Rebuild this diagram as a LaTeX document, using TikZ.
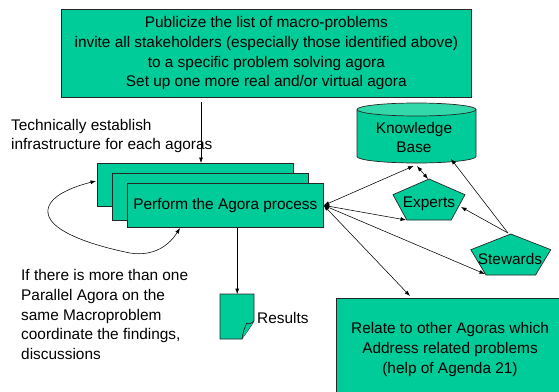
\documentclass[tikz,border=0pt]{standalone}
\usepackage{fontspec}
\setmainfont{Liberation Sans}
\usetikzlibrary{arrows.meta}
\definecolor{agreen}{HTML}{00CC99}
\definecolor{alight}{HTML}{33D8AA}
\begin{document}
\begin{tikzpicture}[x=1pt,y=-1pt,
  txt/.style={font=\fontsize{15.4pt}{19.7pt}\selectfont, inner sep=0pt, text=black},
  box/.style={draw=black!85, fill=agreen, line width=0.7pt, inner sep=0pt},
  conn/.style={line width=0.55pt, black},
  tipa/.style={-{Latex[length=5.5pt,width=4pt]}},
  tipb/.style={{Latex[length=5.5pt,width=4pt]}-{Latex[length=5.5pt,width=4pt]}}]
\useasboundingbox (0,0) rectangle (559,391);

% top box
\node[box, txt, align=center, minimum width=410pt, minimum height=88pt, anchor=north west] (top) at (61,9)
  {Publicize the list of macro-problems\\invite all stakeholders (especially those identified above)\\to a specific problem solving agora\\Set up one more real and/or virtual agora};

\node[txt, align=left, anchor=west] (tech) at (11,136)
  {Technically establish\\infrastructure for each agoras};

% stacked boxes
\node[box, minimum width=196pt, minimum height=43pt, anchor=north west] (b1) at (97,163) {};
\node[box, minimum width=196pt, minimum height=47pt, anchor=north west] (b2) at (112,173) {};
\node[box, txt, minimum width=196pt, minimum height=44pt, anchor=north west] (perf) at (127,183) {Perform the Agora process};

\coordinate (topout) at (201,102);
\draw[conn,tipa] (topout) -- (b1.north -| topout);

% loop
\coordinate (loopA) at (96,181);
\coordinate (loopB) at (180,228);
\draw[conn,tipb] (loopA) .. controls (72,187) and (46,197) .. (48,213)
  .. controls (50,232) and (95,246) .. (130,253)
  .. controls (155,257) and (170,244) .. (loopB);

\node[txt, align=left, anchor=west] (ifthere) at (21,314.5)
  {If there is more than one\\Parallel Agora on the\\same Macroproblem\\coordinate the findings,\\discussions};

% results document
\node[inner sep=0pt, minimum width=34pt, minimum height=45pt, anchor=north west] (res) at (220,294) {};
\draw[box] (220,294) -- (254,294) -- (254,321) .. controls (250,328) and (245,334) .. (242,339) -- (220,339) -- cycle;
\draw[box] (242,339) .. controls (243,332) and (245,326) .. (247,323) .. controls (249,325) and (252,323) .. (254,321);
\node[txt, anchor=west] (restext) at (257,318) {Results};
\draw[conn,tipa] (perf.south -| res.north) -- (res.north);

% knowledge base cylinder
\path[fill=agreen] (357,109.5) -- (357,156.5) arc[start angle=180, end angle=360, x radius=59.5pt, y radius=6.5pt] -- (476,109.5) -- cycle;
\draw[line width=0.7pt, black!85] (357,109.5) -- (357,156.5) arc[start angle=180, end angle=360, x radius=59.5pt, y radius=6.5pt] -- (476,109.5);
\draw[line width=0.7pt, black!85, fill=alight] (416.5,109.5) ellipse [x radius=59.5pt, y radius=6.5pt];
\node[txt, align=center] (kb) at (414,137.5) {Knowledge\\Base};

% experts pentagon
\draw[box] (429,179) -- (465,194.7) -- (451.2,220) -- (406.8,220) -- (393,194.7) -- cycle;
\node[txt] (exp) at (429,204) {Experts};
% stewards pentagon
\draw[box] (510.8,234) -- (550.8,249.7) -- (535.5,275) -- (486,275) -- (470.8,249.7) -- cycle;
\node[txt] (stew) at (510,259) {Stewards};

% relate box
\node[inner sep=0pt, minimum width=230pt, minimum height=100pt, anchor=north west, fill=agreen] (relate) at (336,298) {};
\draw[line width=0.7pt, black!85] (relate.south west) -- (relate.north west) -- (relate.north east);
\node[txt, align=center] (reltext) at (450,349.5) {Relate to other Agoras which\\Address related problems\\(help of Agenda 21)};

% connector end points
\coordinate (kbIn) at (413.5,166);
\coordinate (kbIn2) at (417,166);
\coordinate (kbIn3) at (451,159);
\coordinate (expLL) at (406,220);
\coordinate (expTop) at (428,179);
\coordinate (expR) at (461,207);
\coordinate (stewLL) at (485,274);
\coordinate (stewTop) at (508,233);
\coordinate (relIn) at (410,296);

\draw[conn,tipb] (perf.east) -- (kbIn);
\draw[conn,tipb] (perf.east) -- (expLL);
\draw[conn,tipb] (perf.east) -- (stewLL);
\draw[conn,tipb] (perf.east) -- (relIn);
\draw[conn,tipb] (kbIn2) -- (expTop);
\draw[conn,tipa] (stewTop) -- (kbIn3);
\draw[conn,tipa] (stewTop) -- (expR);
\end{tikzpicture}
\end{document}
